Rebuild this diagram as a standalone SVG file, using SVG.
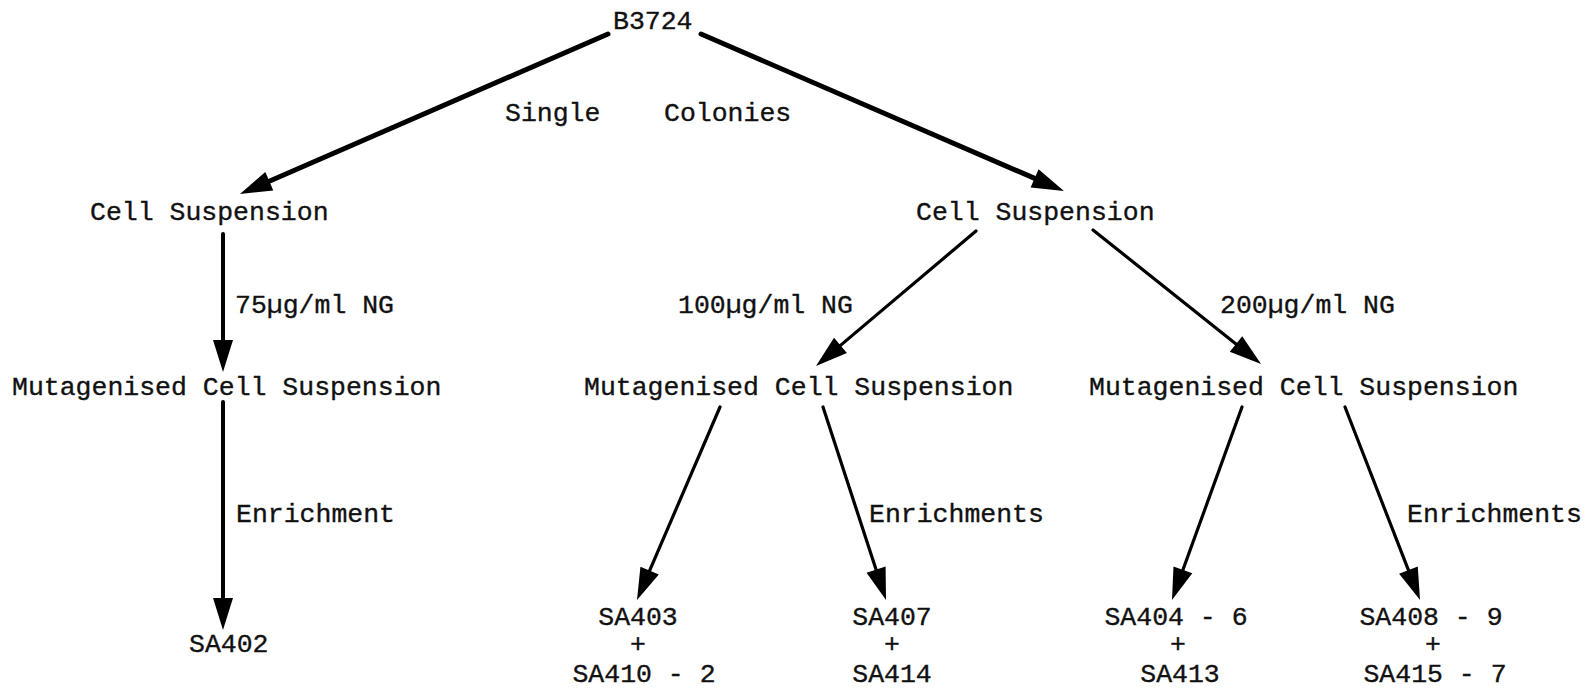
<svg xmlns="http://www.w3.org/2000/svg" width="1594" height="691" viewBox="0 0 1594 691">
<style>
text{font-family:"Liberation Mono","Courier New",monospace;font-size:26.5px;fill:#111;stroke:#111;stroke-width:0.35}
.c{text-anchor:middle}
.ln{stroke:#000;fill:none;stroke-linecap:round}
.w5{stroke-width:5}
.w4{stroke-width:4}
.w3{stroke-width:3.2}
</style>
<defs>
<marker id="ah" markerUnits="userSpaceOnUse" viewBox="-14 -12 36 24" markerWidth="36" markerHeight="24" refX="0" refY="0" orient="auto">
<path d="M20,0 L-12,-10 L-12,10 Z" fill="#000"/>
</marker>
</defs>
<rect width="1594" height="691" fill="#fff"/>
<g id="connectors">
<line class="ln w5" x1="608" y1="34" x2="258.3" y2="186" marker-end="url(#ah)"/>
<line class="ln w5" x1="701" y1="34" x2="1045.6" y2="183.1" marker-end="url(#ah)"/>
<line class="ln w4" x1="223" y1="234" x2="223" y2="352" marker-end="url(#ah)"/>
<line class="ln w4" x1="223" y1="402" x2="223" y2="610" marker-end="url(#ah)"/>
<line class="ln w3" x1="976" y1="231" x2="831.3" y2="353.1" marker-end="url(#ah)"/>
<line class="ln w3" x1="1093" y1="230" x2="1245.4" y2="351.5" marker-end="url(#ah)"/>
<line class="ln w3" x1="720" y1="407" x2="644.9" y2="581.6" marker-end="url(#ah)"/>
<line class="ln w3" x1="823" y1="407" x2="879.8" y2="581" marker-end="url(#ah)"/>
<line class="ln w3" x1="1242" y1="407" x2="1178.8" y2="581.2" marker-end="url(#ah)"/>
<line class="ln w3" x1="1345" y1="407" x2="1412.8" y2="581.4" marker-end="url(#ah)"/>
</g>
<g id="root"><text x="613" y="29">B3724</text></g>
<g id="label-single"><text x="505" y="121">Single</text><text x="664" y="121">Colonies</text></g>
<g id="cell-left"><text x="90" y="220">Cell Suspension</text></g>
<g id="cell-right"><text x="916" y="220">Cell Suspension</text></g>
<g id="ng75"><text x="235" y="313">75µg/ml NG</text></g>
<g id="ng100"><text x="678" y="313">100µg/ml NG</text></g>
<g id="ng200"><text x="1220" y="313">200µg/ml NG</text></g>
<g id="mut-left"><text x="12" y="395">Mutagenised Cell Suspension</text></g>
<g id="mut-mid"><text x="584" y="395">Mutagenised Cell Suspension</text></g>
<g id="mut-right"><text x="1089" y="395">Mutagenised Cell Suspension</text></g>
<g id="enr-left"><text x="236" y="522">Enrichment</text></g>
<g id="enr-mid"><text x="869" y="522">Enrichments</text></g>
<g id="enr-right"><text x="1407" y="522">Enrichments</text></g>
<g id="sa402"><text x="189" y="652">SA402</text></g>
<g id="sa403"><text class="c" x="638" y="625">SA403</text><text class="c" x="638" y="652">+</text><text class="c" x="644" y="682">SA410 - 2</text></g>
<g id="sa407"><text class="c" x="892" y="625">SA407</text><text class="c" x="892" y="652">+</text><text class="c" x="892" y="682">SA414</text></g>
<g id="sa404"><text class="c" x="1176" y="625">SA404 - 6</text><text class="c" x="1178" y="652">+</text><text class="c" x="1180" y="682">SA413</text></g>
<g id="sa408"><text class="c" x="1431" y="625">SA408 - 9</text><text class="c" x="1433" y="652">+</text><text class="c" x="1435" y="682">SA415 - 7</text></g>
</svg>
